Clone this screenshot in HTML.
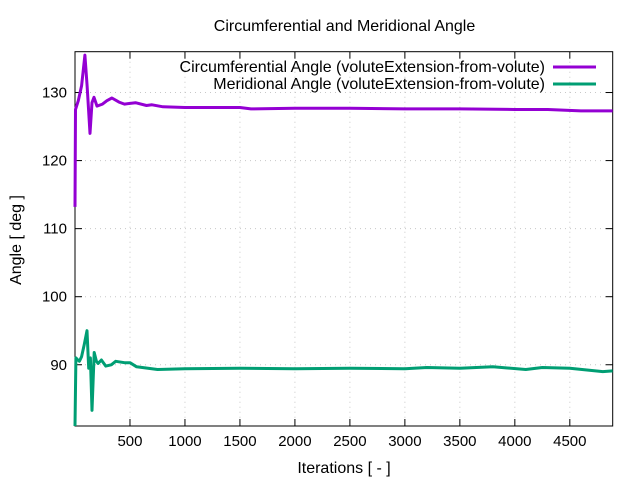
<!DOCTYPE html>
<html><head><meta charset="utf-8"><style>
html,body{margin:0;padding:0;background:#fff;}
svg{display:block;font-family:"Liberation Sans",sans-serif;}
</style></head><body>
<svg id="chart" width="640" height="480">
<text x="344.5" y="31" font-size="16" text-anchor="middle">Circumferential and Meridional Angle</text>
<g id="grid"></g>
<g id="axes"></g>
<g id="series"></g>
<g id="legend"></g>
<text x="21" y="240" font-size="16" text-anchor="middle" transform="rotate(-90 21 240)">Angle [ deg ]</text>
<text x="344" y="473" font-size="16" text-anchor="middle">Iterations [ - ]</text>
</svg>
<script>
const xTicks=[500,1000,1500,2000,2500,3000,3500,4000,4500];
const yTicks=[90,100,110,120,130];
const circIter=[0,5,30,60,90,110,136,155,173,200,250,290,336,400,450,550,650,700,800,1000,1300,1500,1600,2000,2500,3000,3500,4000,4300,4600,4890];
const circVal=[113.2,127.5,128.8,131,135.5,131,124,128.5,129.3,128,128.3,128.8,129.2,128.6,128.3,128.5,128.1,128.2,127.9,127.8,127.8,127.8,127.6,127.7,127.7,127.6,127.6,127.5,127.5,127.3,127.3];
const merIter=[0,8,20,40,60,85,109,125,140,155,175,195,210,240,280,330,370,450,500,560,750,1000,1500,2000,2500,3000,3200,3500,3800,4100,4250,4500,4800,4890];
const merVal=[81,91,90.8,90.5,91.2,93,95,89.5,91,83.3,91.8,90.5,90.2,90.7,89.8,90,90.5,90.3,90.3,89.7,89.3,89.4,89.5,89.4,89.5,89.4,89.6,89.5,89.7,89.3,89.6,89.5,89.0,89.1];
const X0=75,X1=612.7,Y0=426,Y1=51.7,XMIN=0,XMAX=4890,YMIN=81,YMAX=136;
const sx=v=>X0+(v-XMIN)/(XMAX-XMIN)*(X1-X0);
const sy=v=>Y0-(v-YMIN)/(YMAX-YMIN)*(Y0-Y1);
const NS="http://www.w3.org/2000/svg";
function mk(tag,attrs,parent){const e=document.createElementNS(NS,tag);for(const k in attrs)e.setAttribute(k,attrs[k]);parent.appendChild(e);return e;}
const grid=document.getElementById('grid'),axes=document.getElementById('axes'),series=document.getElementById('series'),legend=document.getElementById('legend');
xTicks.forEach(t=>{const x=sx(t);
 const g=mk('line',{x1:x,x2:x,y1:Y1,y2:Y0,stroke:'#c8c8c8','stroke-width':1,'stroke-dasharray':'1,4'},grid);
 
 
 mk('line',{x1:x,x2:x,y1:Y0,y2:Y0-7,stroke:'#000'},axes);
 mk('line',{x1:x,x2:x,y1:Y1,y2:Y1+7,stroke:'#000'},axes);
 const tx=mk('text',{x:x,y:Y0+20,'font-size':15,'text-anchor':'middle'},axes);tx.textContent=t;
 
 
});
yTicks.forEach(t=>{const y=sy(t);
 const g=mk('line',{x1:X0,x2:X1,y1:y,y2:y,stroke:'#c8c8c8','stroke-width':1,'stroke-dasharray':'1,4'},grid);
 
 
 mk('line',{x1:X0,x2:X0+7,y1:y,y2:y,stroke:'#000'},axes);
 mk('line',{x1:X1,x2:X1-7,y1:y,y2:y,stroke:'#000'},axes);
 const tx=mk('text',{x:X0-8,y:y+5,'font-size':15,'text-anchor':'end'},axes);tx.textContent=t;
 
 
});
const frame=mk('rect',{x:X0,y:Y1,width:X1-X0,height:Y0-Y1,fill:'none',stroke:'#000'},axes);


function line(xs,ys,color,name){
 const d=xs.map((v,i)=>(i?'L':'M')+sx(v).toFixed(1)+','+sy(ys[i]).toFixed(1)).join('');
 const p=mk('path',{d:d,fill:'none',stroke:color,'stroke-width':3,'stroke-linejoin':'round'},series);
 
 
}
line(circIter,circVal,'#9400d3','circumferential-angle-line');
line(merIter,merVal,'#009e73','meridional-angle-line');
[['Circumferential Angle (voluteExtension-from-volute)','#9400d3',67],['Meridional Angle (voluteExtension-from-volute)','#009e73',84]].forEach((l,i)=>{
 const t=mk('text',{x:545,y:l[2]+5,'font-size':16,'text-anchor':'end'},legend);t.textContent=l[0];
 
 
 const ln=mk('line',{x1:553,x2:596,y1:l[2],y2:l[2],stroke:l[1],'stroke-width':3},legend);
 
 
});
</script>
</body></html>
